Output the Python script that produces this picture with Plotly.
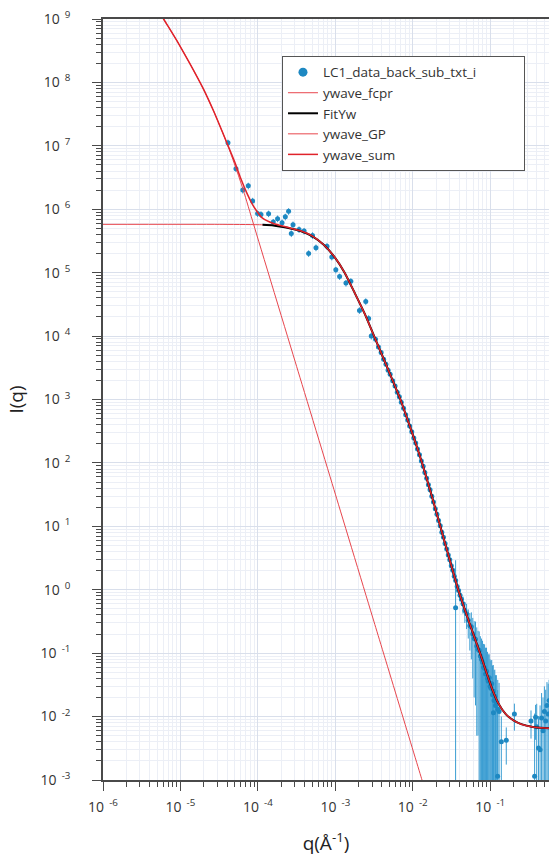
import plotly.graph_objects as go

# ---------------- data ----------------
# measured points (q in 1/A, I in arbitrary units, symmetric error)
q_data = [
    4.11e-5, 5.21e-5, 6.38e-5, 7.52e-5, 8.55e-5, 9.91e-5, 1.096e-4, 1.374e-4, 1.58e-4, 1.795e-4,
    2.05e-4, 2.26e-4, 2.49e-4, 2.70e-4, 2.84e-4, 3.40e-4, 3.95e-4, 4.52e-4, 5.07e-4, 5.62e-4,
    7.80e-4, 9.00e-4, 1.014e-3, 1.135e-3, 1.371e-3, 1.585e-3, 2.05e-3, 2.47e-3, 2.69e-3, 2.91e-3,
    3.3e-3, 3.6e-3, 3.9e-3, 4.2e-3, 4.5e-3, 4.8e-3, 5.1e-3, 5.5e-3, 5.9e-3, 6.3e-3,
    6.7e-3, 7.1e-3, 7.6e-3, 8.1e-3, 8.6e-3, 9.1e-3, 9.7e-3, 1.03e-2, 1.09e-2, 1.15e-2,
    1.22e-2, 1.29e-2, 1.36e-2, 1.43e-2, 1.51e-2, 1.59e-2, 1.67e-2, 1.76e-2, 1.85e-2, 1.95e-2,
    2.05e-2, 2.15e-2, 2.26e-2, 2.37e-2, 2.49e-2, 2.61e-2, 2.74e-2, 2.87e-2, 3.0e-2, 3.14e-2,
    3.28e-2, 3.43e-2, 3.58e-2, 3.74e-2, 3.90e-2, 4.07e-2, 4.25e-2, 3.57e-2,
    0.0445, 0.047, 0.0495, 0.052, 0.0545, 0.057, 0.0595, 0.062, 0.0645, 0.067,
    0.0695, 0.072, 0.0745, 0.077, 0.0795, 0.082, 0.0845, 0.087, 0.0895, 0.092,
    0.0945, 0.097, 0.0995, 0.102, 0.1045, 0.107, 0.1095, 0.112, 0.1145, 0.117,
    0.12, 0.125, 0.13,
    0.110, 0.1245, 0.139, 0.161, 0.205, 0.336, 0.374, 0.385, 0.398, 0.42,
    0.44, 0.46, 0.48, 0.50, 0.52, 0.54, 0.56, 0.575,
]
I_data = [
    1.12e7, 4.37e6, 2.01e6, 2.34e6, 1.355e6, 8.55e5, 8.30e5, 8.51e5, 6.28e5, 7.11e5,
    6.15e5, 7.59e5, 9.27e5, 4.14e5, 5.71e5, 4.79e5, 4.53e5, 2.01e5, 3.87e5, 2.48e5,
    2.60e5, 1.77e5, 1.107e5, 8.67e4, 6.85e4, 7.29e4, 2.54e4, 3.52e4, 1.90e4, 1.0e4,
    8.9e3, 6.7e3, 5.5e3, 4.3e3, 3.6e3, 2.9e3, 2.5e3, 1.97e3, 1.63e3, 1.30e3,
    1.11e3, 905, 730, 575, 475, 383, 310, 247, 206, 165,
    135, 107, 88.5, 70.8, 57.3, 45.4, 37.6, 29.7, 24.3, 19.0,
    15.5, 12.4, 10.2, 8.1, 6.7, 5.35, 4.40, 3.53, 2.98, 2.40,
    2.03, 1.64, 1.40, 1.13, 0.975, 0.82, 0.71, 0.52,
    0.60, 0.47, 0.42, 0.33, 0.27, 0.26, 0.20, 0.17, 0.165, 0.13,
    0.115, 0.11, 0.090, 0.080, 0.072, 0.060, 0.058, 0.047, 0.052, 0.040,
    0.036, 0.041, 0.030, 0.028, 0.033, 0.022, 0.025, 0.018, 0.021, 0.015,
    0.017, 0.013, 0.012,
    0.0115, 0.00115, 0.004, 0.00425, 0.011, 0.0085, 0.00115, 0.0098, 0.0069, 0.0032,
    0.0030, 0.0095, 0.0060, 0.012, 0.0085, 0.015, 0.011, 0.018,
]
I_err = [
    1.3e6, 5.2e5, 2.4e5, 2.8e5, 1.6e5, 1.0e5, 1.0e5, 1.0e5, 7.5e4, 8.5e4,
    7.4e4, 9.1e4, 1.1e5, 5.0e4, 6.9e4, 5.7e4, 5.4e4, 2.4e4, 4.6e4, 3.0e4,
    3.1e4, 2.1e4, 1.3e4, 1.0e4, 8.2e3, 8.7e3, 3.0e3, 4.2e3, 2.3e3, 1.2e3,
    270, 200, 165, 130, 110, 87, 75, 60, 50, 40,
    33, 27, 22, 17, 14, 12, 9.5, 7.5, 6.5, 5.5,
    4.5, 3.8, 3.2, 2.7, 2.3, 1.9, 1.7, 1.4, 1.2, 1.0,
    1.2, 1.0, 0.85, 0.7, 0.6, 0.5, 0.42, 0.36, 0.42, 0.36,
    0.32, 0.27, 0.24, 0.2, 0.18, 0.16, 0.15, 2.4,
    0.18, 0.17, 0.18, 0.16, 0.16, 0.18, 0.16, 0.15, 0.15, 0.125,
    0.11, 0.11, 0.095, 0.09, 0.085, 0.08, 0.08, 0.075, 0.07, 0.065,
    0.06, 0.055, 0.05, 0.048, 0.045, 0.042, 0.04, 0.036, 0.034, 0.03,
    0.028, 0.025, 0.022,
    0.0135, 0.025, 0.006, 0.0025, 0.005, 0.004, 0.01, 0.0055, 0.009, 0.007,
    0.012, 0.014, 0.014, 0.018, 0.018, 0.02, 0.022, 0.02,
]

# model curves
q_fcpr = [1.0e-6, 3.16e-5, 1.0e-4, 1.585e-4, 2.40e-4, 3.55e-4, 5.01e-4, 7.08e-4, 1.0e-3,
          1.318e-3, 1.778e-3, 2.40e-3, 3.16e-3, 4.17e-3, 5.37e-3, 6.92e-3, 8.91e-3, 1.096e-2,
          1.318e-2, 1.738e-2, 2.265e-2, 2.95e-2, 3.86e-2, 5.37e-2, 7.48e-2, 8.91e-2, 0.1047,
          0.1259, 0.1585, 0.1995, 0.2512, 0.3548, 0.501, 0.631]
I_fcpr = [5.78e5, 5.78e5, 5.71e5, 5.56e5, 5.09e5, 4.52e5, 3.78e5, 2.75e5, 1.70e5,
          1.0e5, 4.79e4, 2.24e4, 1.0e4, 4.47e3, 2.14e3, 1.0e3, 417, 200,
          100, 31.6, 10.0, 3.16, 1.0, 0.302, 0.0955, 0.0501, 0.0282,
          0.0166, 0.01096, 0.00871, 0.00759, 0.00684, 0.00661, 0.00653]

q_fit = [1.148e-4, 1.585e-4, 2.40e-4, 3.55e-4, 5.01e-4, 7.08e-4, 1.0e-3,
         1.318e-3, 1.778e-3, 2.40e-3, 3.16e-3, 4.17e-3, 5.37e-3, 6.92e-3, 8.91e-3, 1.096e-2,
         1.318e-2, 1.738e-2, 2.265e-2, 2.95e-2, 3.86e-2, 5.37e-2, 7.48e-2, 8.91e-2, 0.1047,
         0.1259, 0.1585, 0.1995, 0.2512, 0.3548, 0.501, 0.631]
I_fit = [5.68e5, 5.56e5, 5.09e5, 4.52e5, 3.78e5, 2.75e5, 1.70e5,
         1.0e5, 4.79e4, 2.24e4, 1.0e4, 4.47e3, 2.14e3, 1.0e3, 417, 200,
         100, 31.6, 10.0, 3.16, 1.0, 0.302, 0.0955, 0.0501, 0.0282,
         0.0166, 0.01096, 0.00871, 0.00759, 0.00684, 0.00661, 0.00653]

q_gp = [4.68e-6, 6.06e-6, 9.03e-6, 1.34e-5, 1.99e-5, 2.68e-5, 3.44e-5, 4.19e-5, 5.37e-5,
        6.54e-5, 8.80e-5, 3.16e-4, 1.0e-3, 3.16e-3, 1.315e-2, 1.585e-2]
I_gp = [1.70e9, 1.0e9, 4.50e8, 1.93e8, 7.78e7, 3.54e7, 1.71e7, 9.33e6, 3.98e6,
        1.93e6, 5.78e5, 3.33e3, 32.2, 0.311, 1.0e-3, 4.72e-4]

q_sum = [4.68e-6, 6.06e-6, 9.03e-6, 1.34e-5, 1.99e-5, 2.68e-5, 3.44e-5, 4.19e-5, 5.01e-5,
         5.94e-5, 7.23e-5, 8.39e-5, 9.73e-5, 1.148e-4, 1.585e-4, 2.40e-4, 3.55e-4, 5.01e-4,
         7.08e-4, 1.0e-3, 1.318e-3, 1.778e-3, 2.40e-3, 3.16e-3, 4.17e-3, 5.37e-3, 6.92e-3,
         8.91e-3, 1.096e-2, 1.318e-2, 1.738e-2, 2.265e-2, 2.95e-2, 3.86e-2, 5.37e-2, 7.48e-2,
         8.91e-2, 0.1047, 0.1259, 0.1585, 0.1995, 0.2512, 0.3548, 0.501, 0.631]
I_sum = [1.70e9, 1.0e9, 4.50e8, 1.93e8, 7.78e7, 3.54e7, 1.71e7, 9.55e6, 5.62e6,
         3.16e6, 1.78e6, 1.23e6, 9.23e5, 7.24e5, 5.96e5, 5.19e5, 4.57e5, 3.80e5,
         2.75e5, 1.70e5, 1.0e5, 4.79e4, 2.24e4, 1.0e4, 4.47e3, 2.14e3, 1.0e3,
         417, 200, 100, 31.6, 10.0, 3.16, 1.0, 0.302, 0.0955,
         0.0501, 0.0282, 0.0166, 0.01096, 0.00871, 0.00759, 0.00684, 0.00661, 0.00653]

x_tick_vals = [1e-6, 1e-5, 1e-4, 1e-3, 1e-2, 1e-1]
x_tick_text = ["10<sup>  -6</sup>", "10<sup>  -5</sup>", "10<sup>  -4</sup>",
               "10<sup>  -3</sup>", "10<sup>  -2</sup>", "10<sup>  -1</sup>"]
y_tick_vals = [1e-3, 1e-2, 1e-1, 1e0, 1e1, 1e2, 1e3, 1e4, 1e5, 1e6, 1e7, 1e8, 1e9]
y_tick_text = ["10<sup>  -3</sup>", "10<sup>  -2</sup>", "10<sup>  -1</sup>", "10<sup>  0</sup>",
               "10<sup>  1</sup>", "10<sup>  2</sup>", "10<sup>  3</sup>", "10<sup>  4</sup>",
               "10<sup>  5</sup>", "10<sup>  6</sup>", "10<sup>  7</sup>", "10<sup>  8</sup>",
               "10<sup>  9</sup>"]
x_minor_vals = [m * 10.0 ** e for e in range(-6, 0) for m in range(2, 10)]
y_minor_vals = [m * 10.0 ** e for e in range(-3, 9) for m in range(2, 10)]

# ---------------- figure ----------------
BLUE = "#1d88c2"
RED = "#e0232b"
RED_THIN = "#e8464d"

fig = go.Figure()
fig.add_trace(go.Scatter(
    x=q_data, y=I_data, mode="markers", showlegend=False,
    marker=dict(size=5, color=BLUE),
    error_y=dict(type="data", array=I_err, visible=True, color="#3a9dd2", thickness=1, width=0),
))
fig.add_trace(go.Scatter(x=[None], y=[None], mode="markers",
                         marker=dict(size=9, color=BLUE),
                         name="LC1_data_back_sub_txt_i" + "\u00a0" * 12))
fig.add_trace(go.Scatter(x=q_fcpr, y=I_fcpr, mode="lines", name="ywave_fcpr",
                         line=dict(color=RED_THIN, width=1, shape="spline", smoothing=0.5)))
fig.add_trace(go.Scatter(x=q_fit, y=I_fit, mode="lines", name="FitYw",
                         line=dict(color="black", width=2, shape="spline", smoothing=0.5)))
fig.add_trace(go.Scatter(x=q_gp, y=I_gp, mode="lines", name="ywave_GP",
                         line=dict(color=RED_THIN, width=1, shape="spline", smoothing=0.5)))
fig.add_trace(go.Scatter(x=q_sum, y=I_sum, mode="lines", name="ywave_sum",
                         line=dict(color=RED, width=1.5, shape="spline", smoothing=0.5)))

axis_common = dict(
    type="log", showline=True, linecolor="#4a4a4a", linewidth=1.5,
    ticks="outside", ticklen=9, tickwidth=1.2, tickcolor="#4a4a4a",
    showgrid=True, gridcolor="#d9dfeb", gridwidth=1, zeroline=False,
    tickfont=dict(size=14, color="#333333"), automargin=False,
)

fig.update_layout(
    width=549, height=858,
    margin=dict(l=103, r=0, t=19, b=78),
    paper_bgcolor="white", plot_bgcolor="white",
    font=dict(family="Open Sans", color="#333333"),
    xaxis=dict(
        **axis_common, range=[-6, -0.2414], mirror=True,
        tickmode="array", tickvals=x_tick_vals, ticktext=x_tick_text,
        ticklabelstandoff=4,
        minor=dict(tickmode="array", tickvals=x_minor_vals, ticks="outside", ticklen=5,
                   tickwidth=1, tickcolor="#4a4a4a", showgrid=True, gridcolor="#eceff6"),
        title=dict(text="q(Å<sup>-1</sup>)", font=dict(size=19, color="#222222"), standoff=22),
    ),
    yaxis=dict(
        **axis_common, range=[-3, 9],
        tickmode="array", tickvals=y_tick_vals, ticktext=y_tick_text,
        ticklabelstandoff=19,
        minor=dict(tickmode="array", tickvals=y_minor_vals, ticks="outside", ticklen=5,
                   tickwidth=1, tickcolor="#4a4a4a", showgrid=True, gridcolor="#eceff6"),
        title=dict(text="I(q)", font=dict(size=19, color="#222222"), standoff=12),
    ),
    legend=dict(
        x=0.4013, y=0.9515, xanchor="left", yanchor="top",
        bgcolor="white", bordercolor="#555555", borderwidth=1,
        font=dict(size=13.5, color="#333333"), tracegroupgap=0,
    ),
)

fig.write_html(
    "out.html",
    config={"displayModeBar": False},
    post_script="document.body.style.margin='0';document.body.style.overflow='hidden';",
)
